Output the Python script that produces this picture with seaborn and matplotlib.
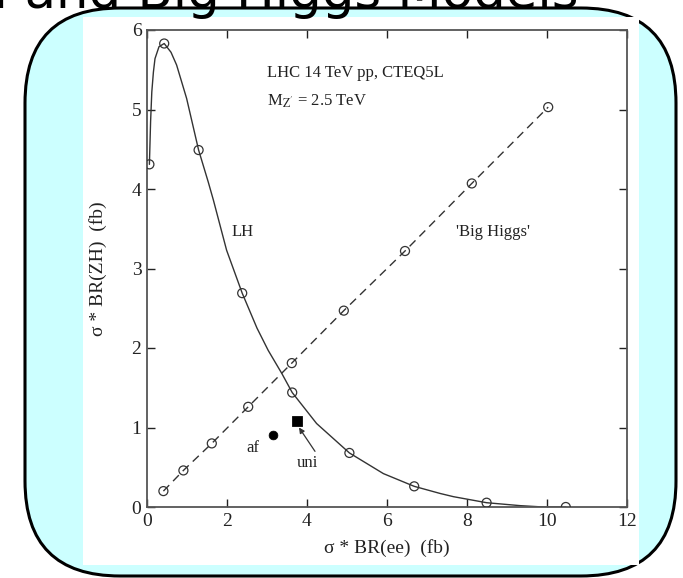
import matplotlib
matplotlib.use("Agg")
import matplotlib.pyplot as plt
from matplotlib.patches import FancyBboxPatch, Rectangle
import seaborn as sns

# LH model: smooth curve samples and the marked points on it
lh_curve_x = [0.06, 0.09, 0.12, 0.16, 0.20, 0.30, 0.43, 0.60, 0.74, 0.99, 1.29, 1.53,
              1.66, 1.99, 2.38, 2.75, 3.03, 3.37, 3.63, 4.24, 5.06, 5.91, 6.68, 7.33,
              7.66, 8.49, 9.33, 9.91, 10.47]
lh_curve_y = [4.31, 4.85, 5.22, 5.47, 5.64, 5.79, 5.83, 5.72, 5.56, 5.14, 4.49, 4.09,
              3.86, 3.23, 2.69, 2.25, 1.97, 1.68, 1.44, 1.05, 0.68, 0.42, 0.26, 0.17,
              0.13, 0.054, 0.017, 0.0, 0.0]
lh_pts_x = [0.06, 0.43, 1.29, 2.38, 3.63, 5.06, 6.68, 8.49, 10.47]
lh_pts_y = [4.31, 5.83, 4.49, 2.69, 1.44, 0.68, 0.26, 0.054, 0.0]

# 'Big Higgs' model points
bh_x = [0.41, 0.91, 1.62, 2.53, 3.62, 4.92, 6.45, 8.12, 10.03]
bh_y = [0.20, 0.46, 0.80, 1.26, 1.81, 2.47, 3.22, 4.07, 5.03]

# single-point models
af_x, af_y = [3.16], [0.91]
uni_x, uni_y = [3.74], [1.08]

x_ticks = [0, 2, 4, 6, 8, 10, 12]
y_ticks = [0, 1, 2, 3, 4, 5, 6]

sns.set_theme(style="ticks")
plt.rcParams["font.family"] = ["Liberation Serif", "DejaVu Serif"]
plt.rcParams["mathtext.fontset"] = "stix"

W, H = 683, 578
fig = plt.figure(figsize=(W / 100, H / 100), dpi=100)
fig.patch.set_facecolor("white")

# slide backdrop: rounded cyan panel with the plot pasted on top
bg = fig.add_axes([0, 0, 1, 1], zorder=0)
bg.set_xlim(0, W)
bg.set_ylim(H, 0)
bg.axis("off")
bg.add_patch(FancyBboxPatch((25, 8), 651, 568,
                            boxstyle="round,pad=0,rounding_size=95",
                            fc="#CCFFFF", ec="black", lw=2.2))
bg.add_patch(Rectangle((83, 17), 556, 548, fc="white", ec="none"))
bg.text(578, 8, "Z' in LH and Big Higgs Models", ha="right", va="baseline",
        fontsize=37, family="DejaVu Sans", color="black")

ax = fig.add_axes([147 / W, (H - 507) / H, 480 / W, 477 / H], zorder=1)
ax.set_facecolor("white")

line_col = "#333333"
sns.lineplot(x=lh_curve_x, y=lh_curve_y, ax=ax, color=line_col, lw=1.0)
sns.lineplot(x=bh_x, y=bh_y, ax=ax, color=line_col, lw=1.0, linestyle=(0, (6, 4)))
sns.scatterplot(x=lh_pts_x, y=lh_pts_y, ax=ax, marker="o", s=42,
                facecolor="none", edgecolor=line_col, linewidth=0.9, zorder=3)
sns.scatterplot(x=bh_x, y=bh_y, ax=ax, marker="o", s=42,
                facecolor="none", edgecolor=line_col, linewidth=0.9, zorder=3)
sns.scatterplot(x=af_x, y=af_y, ax=ax, marker="o", s=40, color="black",
                edgecolor="black", zorder=4)
sns.scatterplot(x=uni_x, y=uni_y, ax=ax, marker="s", s=50, color="black",
                edgecolor="black", zorder=4)

ax.set_xlim(0, 12)
ax.set_ylim(0, 6)
ax.set_xticks(x_ticks)
ax.set_yticks(y_ticks)
ax.tick_params(direction="in", length=6, width=1, top=True, right=True,
               labeltop=False, labelright=False, labelsize=14, colors="#222222",
               pad=4)
for sp in ax.spines.values():
    sp.set_color("#555555")
    sp.set_linewidth(1.3)

ax.set_xlabel("σ * BR(ee)  (fb)", fontsize=14, color="#222222", labelpad=7)
ax.set_ylabel("σ * BR(ZH)  (fb)", fontsize=14, color="#222222", labelpad=18)

txt = dict(fontsize=12, color="#222222")
ax.text(2.99, 5.46, "LHC 14 TeV pp, CTEQ5L", ha="left", va="center", **txt)
ax.text(2.99, 5.10, r"M$_{\mathrm{Z'}}$ = 2.5 TeV", ha="left", va="center", **txt)
ax.text(2.39, 3.46, "LH", ha="center", va="center", **txt)
ax.text(8.65, 3.46, "'Big Higgs'", ha="center", va="center", **txt)
ax.text(2.64, 0.74, "af", ha="center", va="center", **txt)
ax.text(4.01, 0.55, "uni", ha="center", va="center", **txt)
ax.annotate("", xy=(3.80, 1.00), xytext=(4.20, 0.70),
            arrowprops=dict(arrowstyle="-|>", color="#333333", lw=0.9,
                            mutation_scale=8, shrinkA=0, shrinkB=0))

fig.savefig("out.png", dpi=100)
